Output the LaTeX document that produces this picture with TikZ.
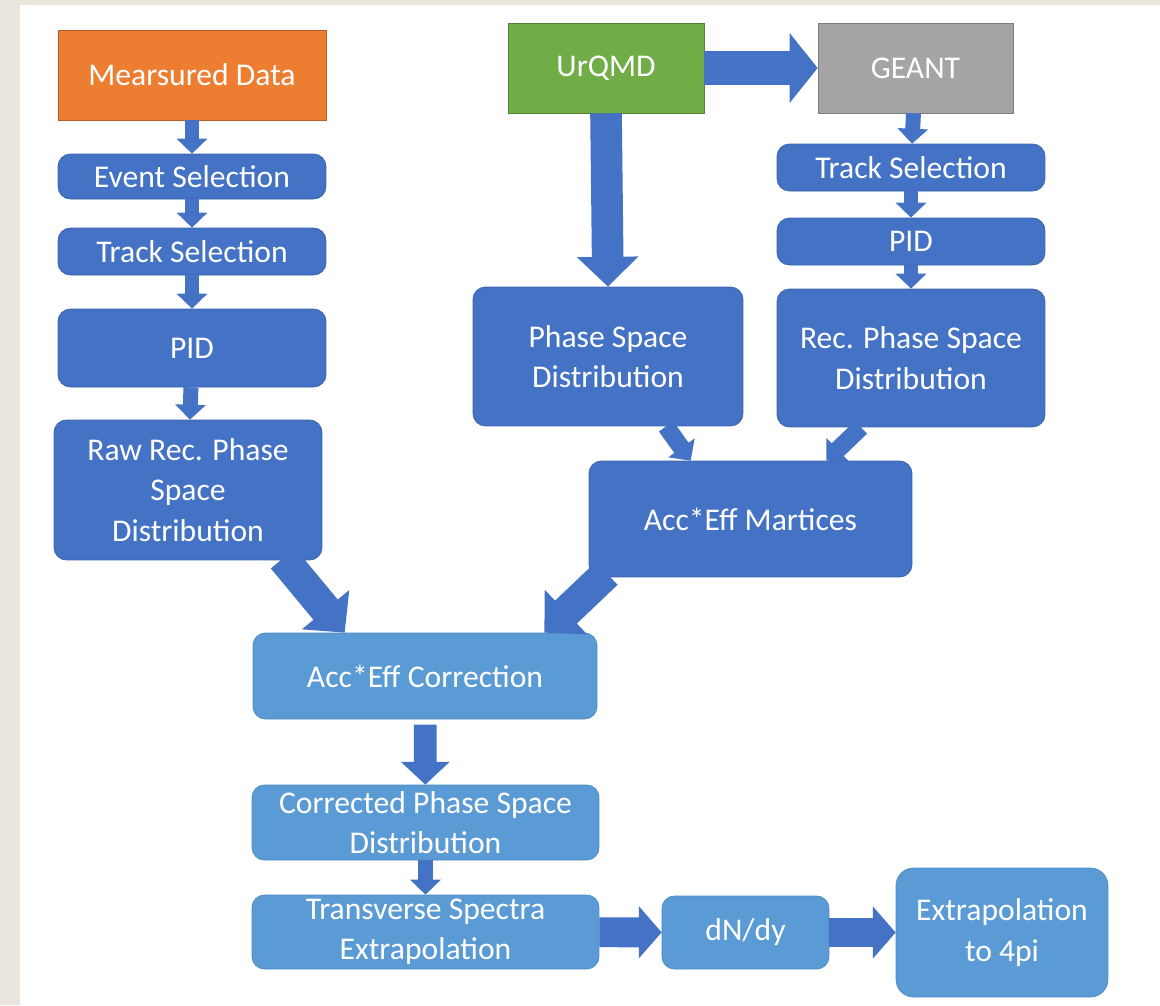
\documentclass[tikz,border=0pt]{standalone}
\usepackage{fontspec}
\setmainfont{Carlito}
\usetikzlibrary{arrows.meta, calc, positioning}

\definecolor{boxblue}{HTML}{4472C4}
\definecolor{boxedge}{HTML}{3A62AC}
\definecolor{lightblue}{HTML}{5B9BD5}
\definecolor{lightedge}{HTML}{4C8AC4}
\definecolor{orangebox}{HTML}{ED7D31}
\definecolor{greenbox}{HTML}{70AD47}
\definecolor{greybox}{HTML}{A5A5A5}
\definecolor{pagebg}{HTML}{EAE6DD}

\begin{document}
\begin{tikzpicture}
  [x=0.02cm, y=-0.02cm,
   box/.style     = {rectangle, rounded corners=7pt, fill=boxblue, draw=boxedge,
                     text=white, align=center, inner sep=1pt,
                     font=\fontsize{18}{23}\selectfont},
   lightbox/.style = {box, fill=lightblue, draw=lightedge},
   source/.style  = {box, rounded corners=0pt},
   smallarrow/.style = {boxblue, line width=8.5pt,
                        -{Triangle[width=17pt, length=8.5pt]}},
   midarrow/.style   = {boxblue, line width=10pt,
                        -{Triangle[width=18pt, length=9pt]}},
   flowarrow/.style  = {boxblue, line width=13pt,
                        -{Triangle[width=27pt, length=13pt]}},
   widearrow/.style  = {boxblue, line width=17pt,
                        -{Triangle[width=29pt, length=13pt]}},
   bigarrow/.style   = {boxblue, line width=18pt,
                        -{Triangle[width=34pt, length=17pt]}},
   sidearrow/.style  = {boxblue, line width=19pt,
                        -{Triangle[width=39pt, length=16pt]}}]

  % page
  \fill[pagebg] (0,0) rectangle (1160,1005);
  \fill[white]  (20,5) rectangle (1160,1005);

  % measured branch
  \node[source, fill=orangebox, draw=orangebox!75!black,
        minimum width=5.36cm, minimum height=1.8cm]  (measured) at (192,75)    {Mearsured Data};
  \node[box, minimum width=5.36cm, minimum height=0.9cm] (event sel)  at (192,176.5) {Event Selection};
  \node[box, minimum width=5.36cm, minimum height=0.94cm] (track sel) at (192,251.5) {Track Selection};
  \node[box, minimum width=5.36cm, minimum height=1.56cm] (pid)       at (192,348)   {PID};
  \node[box, minimum width=5.36cm, minimum height=2.8cm]  (raw)       at (188,490)
        {Raw Rec. Phase\\Space\\Distribution};

  % simulation branch
  \node[source, fill=greenbox, draw=greenbox!75!black,
        minimum width=3.92cm, minimum height=1.8cm]  (urqmd) at (606,68)   {UrQMD};
  \node[source, fill=greybox, draw=greybox!75!black,
        minimum width=3.9cm, minimum height=1.8cm]   (geant) at (915.5,68) {GEANT};
  \node[box, minimum width=5.36cm, minimum height=0.94cm] (sim track sel) at (911,167.5) {Track Selection};
  \node[box, minimum width=5.36cm, minimum height=0.94cm] (sim pid)       at (911,241.5) {PID};
  \node[box, minimum width=5.4cm, minimum height=2.78cm]  (phase space)   at (608,356.5)
        {Phase Space\\Distribution};
  \node[box, minimum width=5.36cm, minimum height=2.76cm] (rec phase)     at (911,358)
        {Rec. Phase Space\\Distribution};
  \node[box, minimum width=6.46cm, minimum height=2.32cm] (matrices)      at (750.5,519)
        {Acc*Eff Martices};

  % correction and results
  \node[lightbox, minimum width=6.88cm, minimum height=1.72cm] (correction) at (425,676)
        {Acc*Eff Correction};
  \node[lightbox, minimum width=6.94cm, minimum height=1.5cm]  (corrected)  at (425.5,822.5)
        {Corrected Phase Space\\Distribution};
  \node[lightbox, minimum width=6.94cm, minimum height=1.48cm] (transverse) at (425.5,932)
        {Transverse Spectra\\Extrapolation};
  \node[lightbox, minimum width=3.34cm, minimum height=1.46cm] (dndy)       at (745.5,932.5)
        {dN/dy};
  \node[lightbox, rounded corners=10pt,
        minimum width=4.24cm, minimum height=2.58cm]           (extrap)     at (1002,932.5)
        {Extrapolation\\to 4pi};

  % arrows
  \draw[smallarrow] (measured)  -- (event sel);
  \draw[smallarrow] (event sel) -- (track sel);
  \draw[smallarrow] (track sel) -- (pid);
  \draw[smallarrow] (pid)       -- (raw);

  \draw[sidearrow] (urqmd.east) -- (geant.west);
  \draw[bigarrow] (urqmd.south) -- (phase space.north);
  \draw[smallarrow] (geant)         -- (sim track sel);
  \draw[smallarrow] (sim track sel) -- (sim pid);
  \draw[smallarrow] (sim pid)       -- (rec phase);

  \draw[midarrow] ($(phase space.south)+(58,0)$) -- ($(matrices.north west)+(102,0)$);
  \draw[midarrow] ($(rec phase.south)+(-50,0)$)  -- ($(matrices.north east)+(-86,0)$);

  \draw[bigarrow] ($(raw.south)+(95,-2)$)          -- ($(correction.north west)+(92,0)$);
  \draw[bigarrow] ($(matrices.south west)+(18,-4)$) -- ($(correction.north east)+(-53,0)$);

  \draw[flowarrow, shorten <=3pt] (correction) -- (corrected);
  \draw[smallarrow] (corrected) -- (transverse);
  \draw[widearrow] (transverse) -- (dndy);
  \draw[widearrow] (dndy)       -- (extrap);
\end{tikzpicture}
\end{document}
